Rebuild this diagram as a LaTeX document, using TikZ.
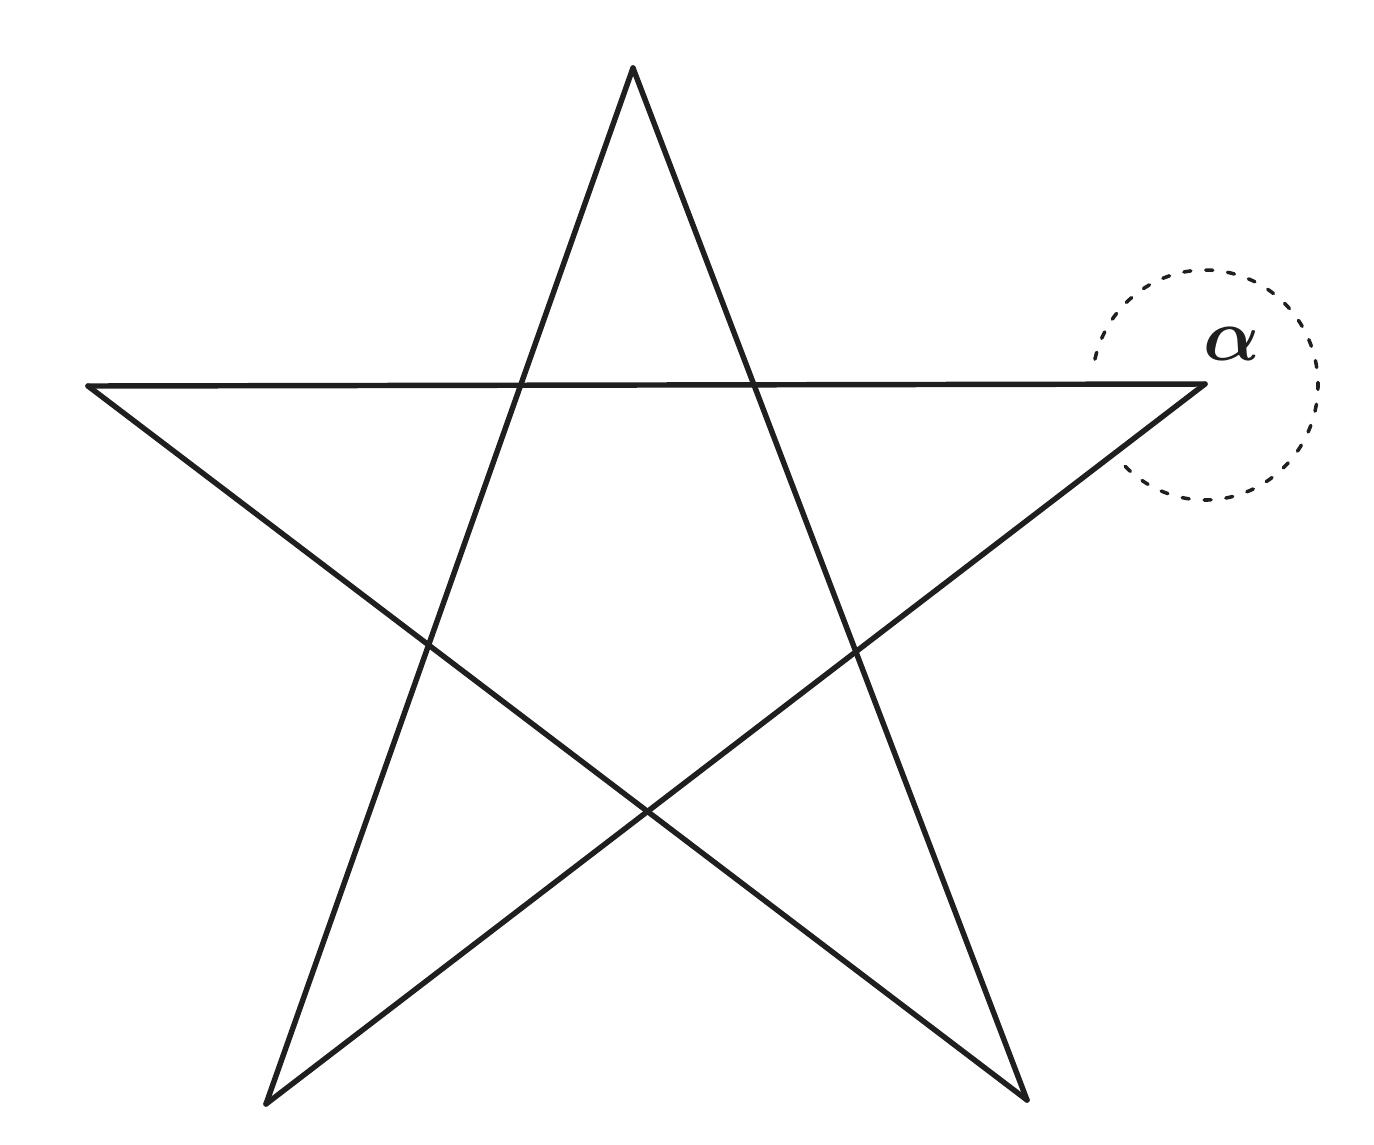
\documentclass[tikz,border=0pt]{standalone}
\begin{document}
\begin{tikzpicture}[ x = 0.02cm, y = -0.02cm, line width = 3.1pt, line cap = round, line join = round ]
        \useasboundingbox ( 0, 0 ) rectangle ( 1374, 1144 );

        % вершины звезды
        \coordinate (T) at ( 633, 68 );
        \coordinate (L) at ( 88, 386 );
        \coordinate (R) at ( 1205, 384 );
        \coordinate (BL) at ( 266, 1104 );
        \coordinate (BR) at ( 1027, 1100 );

        % звезда
        \draw [ color = black!88 ] (T) -- (BL);
        \draw [ color = black!88 ] (T) -- (BR);
        \draw [ color = black!88 ] (L) -- (R);
        \draw [ color = black!88 ] (L) -- (BR);
        \draw [ color = black!88 ] (R) -- (BL);

        % угол
        \draw [ color = black!88, line width = 2pt, dash pattern = on 4pt off 8.5pt ] ( 1205, 385 ) ++( 193:113 and 115 ) arc [ start angle = 193, end angle = 495, x radius = 113, y radius = 115 ];
        \node [ color = black!88, font = \Huge\boldmath, scale = 1.7 ] (alpha) at ( 1232, 344 ) {$\alpha$};
    \end{tikzpicture}
\end{document}
